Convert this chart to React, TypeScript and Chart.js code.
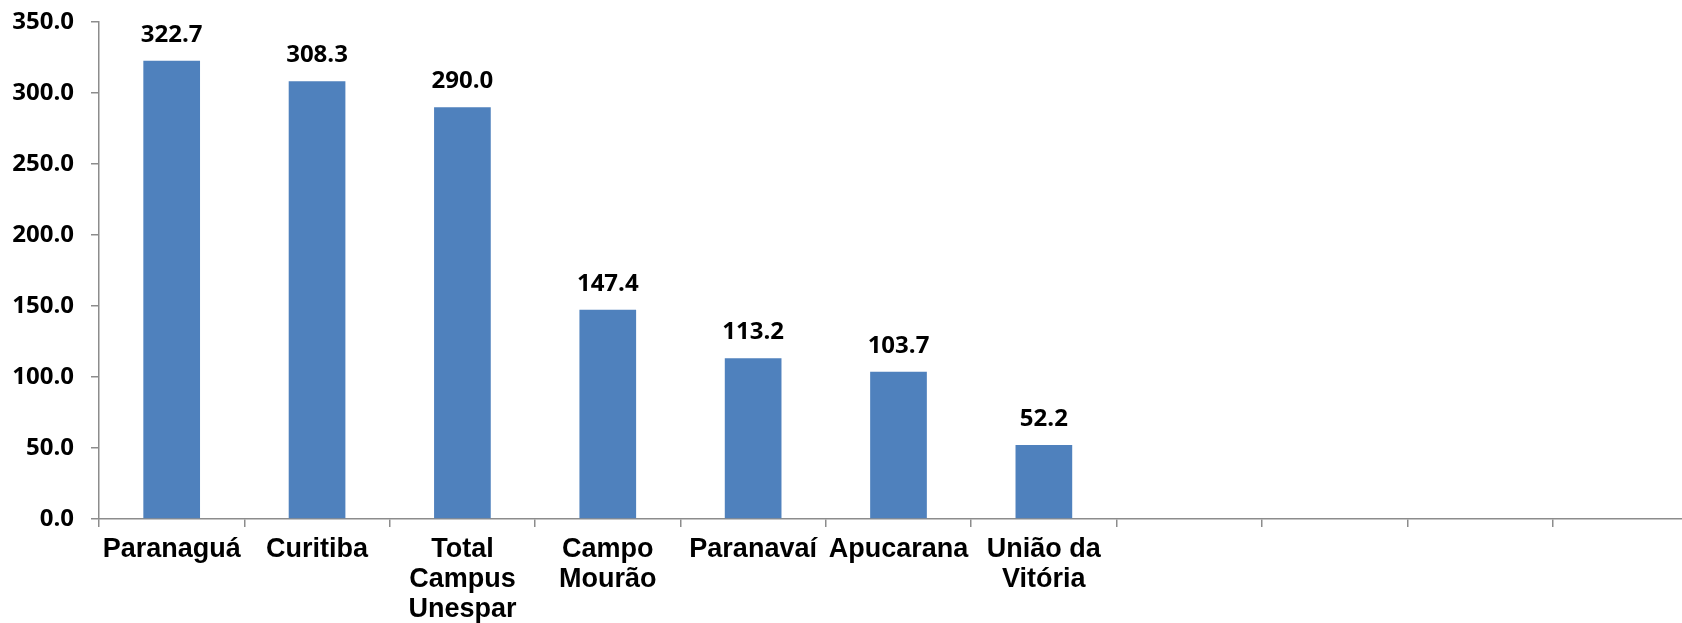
import React, { useEffect, useRef } from "react";
import { Chart, registerables } from "chart.js";

Chart.register(...registerables);

const categories: (string | string[])[] = [
  "Paranaguá",
  "Curitiba",
  ["Total", "Campus", "Unespar"],
  ["Campo", "Mourão"],
  "Paranavaí",
  "Apucarana",
  ["União da", "Vitória"],
  "",
  "",
  "",
  "",
];
const values: (number | null)[] = [322.7, 308.3, 290.0, 147.4, 113.2, 103.7, 52.2, null, null, null, null];
const yTicks = [0, 50, 100, 150, 200, 250, 300, 350];

const AXIS_GRAY = "#8c8c8c";
const BAR_BLUE = "#4F81BD";

const dataLabels = {
  id: "dataLabels",
  afterDatasetsDraw(chart: any) {
    const ctx = chart.ctx;
    const meta = chart.getDatasetMeta(0);
    ctx.save();
    ctx.font = "bold 24px 'Open Sans'";
    ctx.fillStyle = "#000";
    ctx.textAlign = "center";
    ctx.textBaseline = "alphabetic";
    meta.data.forEach((bar: any, i: number) => {
      const v = values[i];
      if (v === null || v === undefined) return;
      ctx.fillText(v.toFixed(1), bar.x, bar.y - 19);
    });
    ctx.restore();
  },
};

export default function App() {
  const ref = useRef<HTMLCanvasElement | null>(null);
  useEffect(() => {
    document.body.style.margin = "0";
    document.body.style.overflow = "hidden";
    document.documentElement.style.overflow = "hidden";
    if (!ref.current) return;
    const chart = new Chart(ref.current, {
      type: "bar",
      data: {
        labels: categories,
        datasets: [
          {
            data: values,
            backgroundColor: BAR_BLUE,
            borderWidth: 0,
            barPercentage: 0.78,
            categoryPercentage: 0.5,
          },
        ],
      },
      options: {
        animation: false,
        responsive: false,
        maintainAspectRatio: false,
        layout: { padding: { top: 22, right: 0, bottom: 0, left: 0 } },
        plugins: {
          legend: { display: false },
          tooltip: { enabled: false },
        },
        scales: {
          x: {
            grid: {
              display: true,
              drawOnChartArea: false,
              drawTicks: true,
              tickLength: 8,
              color: AXIS_GRAY,
              lineWidth: 1.5,
              offset: true,
            },
            border: { display: true, color: AXIS_GRAY, width: 1.5 },
            ticks: {
              color: "#000",
              font: { family: "'Liberation Sans'", weight: "bold", size: 27, lineHeight: 1.111 },
              padding: 8,
              maxRotation: 0,
              minRotation: 0,
              autoSkip: false,
            },
            afterFit: (scale: any) => {
              scale.height = 104;
              scale.paddingLeft = 0;
              scale.paddingRight = 0;
            },
          },
          y: {
            min: 0,
            max: 350,
            afterBuildTicks: (scale: any) => {
              scale.ticks = yTicks.map((v) => ({ value: v }));
            },
            grid: {
              display: true,
              drawOnChartArea: false,
              drawTicks: true,
              tickLength: 8,
              color: AXIS_GRAY,
              lineWidth: 1.5,
            },
            border: { display: true, color: AXIS_GRAY, width: 1.5 },
            ticks: {
              color: "#000",
              font: { family: "'Open Sans'", weight: "bold", size: 24 },
              padding: 17,
              callback: (v: any) => Number(v).toFixed(1),
            },
            afterFit: (scale: any) => {
              scale.width = 99;
              scale.paddingTop = 0;
              scale.paddingBottom = 0;
            },
          },
        },
      },
      plugins: [dataLabels],
    });
    return () => chart.destroy();
  }, []);
  return (
    <div style={{ width: 1698, height: 623 }}>
      <canvas ref={ref} width={1698} height={623} style={{ display: "block" }} />
    </div>
  );
}
